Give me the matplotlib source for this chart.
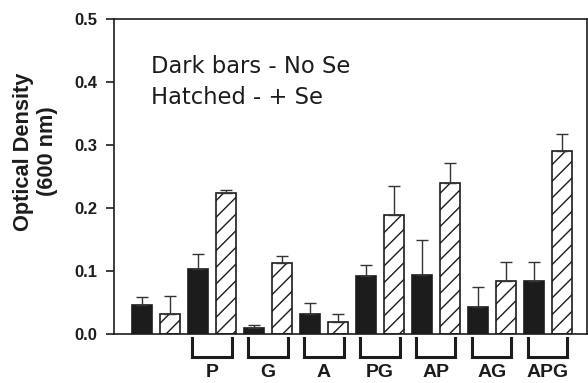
import matplotlib.pyplot as plt
from matplotlib import font_manager as fm
import numpy as np

groups = ["", "P", "G", "A", "PG", "AP", "AG", "APG"]
no_se = [0.046, 0.103, 0.010, 0.032, 0.092, 0.093, 0.043, 0.084]
no_se_err = [0.013, 0.024, 0.004, 0.017, 0.017, 0.057, 0.032, 0.031]
plus_se = [0.031, 0.224, 0.113, 0.019, 0.189, 0.240, 0.084, 0.290]
plus_se_err = [0.030, 0.004, 0.011, 0.013, 0.046, 0.031, 0.030, 0.027]

# pick the regular-width Liberation Sans Bold file (not the Narrow one)
bold_file = None
for f in fm.fontManager.ttflist:
    if f.name == "Liberation Sans" and f.weight in (700, "bold") and "Narrow" not in f.fname:
        bold_file = f.fname
        break
def bold(size):
    if bold_file:
        return fm.FontProperties(fname=bold_file, size=size)
    return fm.FontProperties(family="Liberation Sans", weight="bold", size=size)

plt.rcParams["hatch.linewidth"] = 1.0
ink = "#1c1c1c"

W, H = 588, 383
fig = plt.figure(figsize=(W / 100, H / 100), dpi=100)
ax = fig.add_axes([114 / W, 1 - 334 / H, 472.5 / W, 315 / H])

x = np.arange(len(groups))
bw = 0.36
ax.bar(x, no_se, bw, color=ink, edgecolor=ink, linewidth=1.2, zorder=2)
ax.bar(x + 0.5, plus_se, bw, color="white", edgecolor=ink, linewidth=1.2,
       hatch="//", zorder=2)
ax.errorbar(x, no_se, yerr=[np.zeros(len(x)), no_se_err], fmt="none",
            ecolor="#333333", elinewidth=1, capsize=4, capthick=1, zorder=3)
ax.errorbar(x + 0.5, plus_se, yerr=[np.zeros(len(x)), plus_se_err], fmt="none",
            ecolor="#333333", elinewidth=1, capsize=4, capthick=1, zorder=3)

# brackets + group labels under the axis
for i, g in enumerate(groups):
    if not g:
        continue
    c = i + 0.25
    ax.plot([c - 0.36, c - 0.36, c + 0.35, c + 0.35], [-0.007, -0.036, -0.036, -0.007],
            color=ink, lw=2.2, clip_on=False, solid_joinstyle="miter")
    ax.text(c, -0.069, g, ha="center", va="baseline", fontproperties=bold(14), color=ink)

ax.set_xlim(-0.5, 7.94)
ax.set_ylim(0, 0.5)
ax.set_xticks([])
ax.set_yticks([0, 0.1, 0.2, 0.3, 0.4, 0.5])
ax.set_yticklabels(["0.0", "0.1", "0.2", "0.3", "0.4", "0.5"], fontproperties=bold(12),
                   color=ink)
ax.tick_params(axis="y", direction="out", length=6, width=1.2, pad=6, color=ink)
for s in ax.spines.values():
    s.set_linewidth(1.2)
    s.set_color(ink)

fig.text(24 / W, 1 - 152 / H, "Optical Density", rotation=90, ha="center", va="center",
         fontproperties=bold(15.7), color=ink)
fig.text(47 / W, 1 - 151 / H, "(600 nm)", rotation=90, ha="center", va="center",
         fontproperties=bold(15.7), color=ink)

fig.text(151 / W, 1 - 73 / H, "Dark bars - No Se", ha="left", va="baseline",
         fontsize=16.3, family="DejaVu Sans", color=ink)
fig.text(151 / W, 1 - 104 / H, "Hatched - + Se", ha="left", va="baseline",
         fontsize=16.3, family="DejaVu Sans", color=ink)

fig.savefig("out.png", dpi=100)
